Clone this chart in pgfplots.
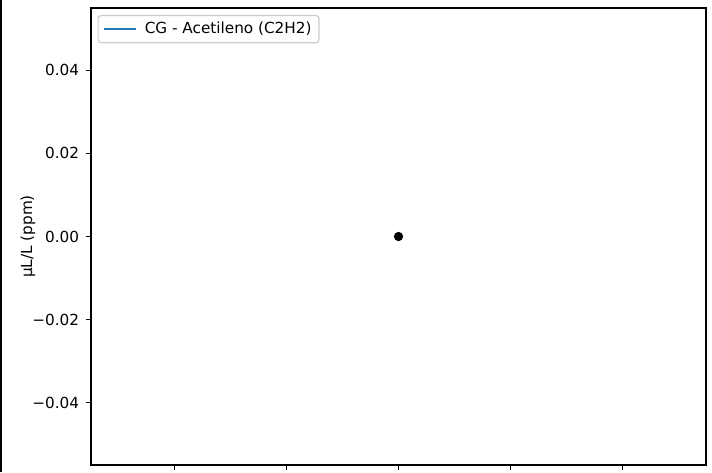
\documentclass[border=0pt]{standalone}
\usepackage{fontspec}
\setmainfont{DejaVu Sans}
\usepackage{pgfplots}
\pgfplotsset{compat=1.18}
\definecolor{tabblue}{RGB}{31,119,180}
\begin{document}
\begin{tikzpicture}
\useasboundingbox (-61.425pt,-4.725pt) rectangle (419.175pt,313.875pt);
\begin{axis}[
  at={(0,0)}, anchor=south west,
  scale only axis,
  width=415.125pt, height=308.475pt,
  xmin=-0.055, xmax=0.055, ymin=-0.055, ymax=0.055,
  scaled ticks=false,
  axis line style={line width=0.8pt, black},
  tick style={line width=0.8pt, black},
  tick align=outside,
  major tick length=3.5pt,
  xtick={-0.04,-0.02,0,0.02,0.04},
  xticklabels={},
  ytick={-0.04,-0.02,0,0.02,0.04},
  yticklabels={−0.04,−0.02,0.00,0.02,0.04},
  xtick pos=bottom, ytick pos=left,
  yticklabel style={font=\fontsize{10.3}{12}\selectfont, xshift=-1pt},
  /pgf/number format/assume math mode=true,
  ylabel={µL/L (ppm)},
  ylabel style={at={(axis description cs:-0.1025,0.5)}, anchor=center, font=\fontsize{10.3}{12}\selectfont},
  legend style={at={(axis description cs:0,1)}, anchor=north west, xshift=4.4pt, yshift=-4.7pt,
    draw={rgb,255:red,204;green,204;blue,204}, rounded corners=2pt, line width=0.8pt,
    font=\fontsize{10.3}{12}\selectfont, inner xsep=3pt, inner ysep=2.5pt,
    cells={anchor=west},
    /tikz/every odd column/.append style={column sep=3pt}},
  legend image code/.code={\draw[#1] (0pt,0pt) -- (22pt,0pt);},
]
\addplot[color=tabblue, line width=1.5pt] coordinates {(0,0)};
\addlegendentry{CG - Acetileno (C2H2)}
\addplot[only marks, mark=*, mark size=2.9pt, black, forget plot] coordinates {(0,0)};
\end{axis}
\draw[line width=1pt, black] (-60.6pt,-4.725pt) -- (-60.6pt,313.875pt);
\end{tikzpicture}
\end{document}
